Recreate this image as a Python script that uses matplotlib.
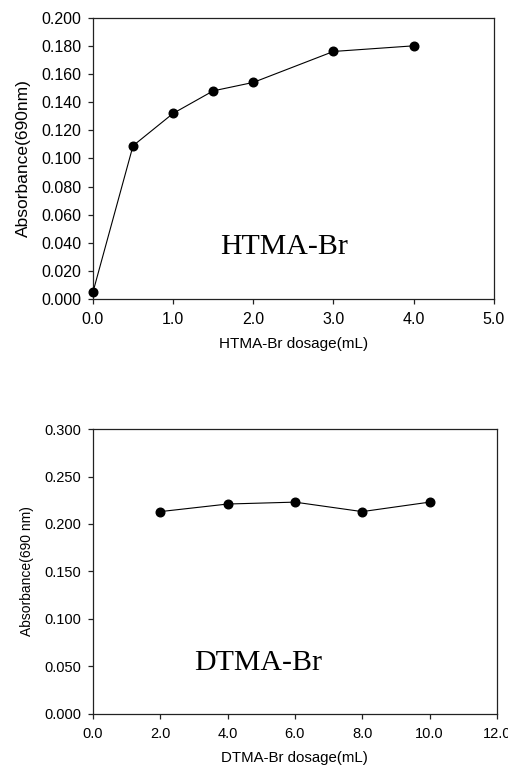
import matplotlib
matplotlib.use("Agg")
import matplotlib.pyplot as plt

# Data
htma_x = [0.0, 0.5, 1.0, 1.5, 2.0, 3.0, 4.0]
htma_y = [0.005, 0.109, 0.132, 0.148, 0.154, 0.176, 0.180]
dtma_x = [2.0, 4.0, 6.0, 8.0, 10.0]
dtma_y = [0.213, 0.221, 0.223, 0.213, 0.223]

top_xticks = [0, 1, 2, 3, 4, 5]
top_xticklabels = ["0.0", "1.0", "2.0", "3.0", "4.0", "5.0"]
top_yticks = [0.0, 0.02, 0.04, 0.06, 0.08, 0.10, 0.12, 0.14, 0.16, 0.18, 0.20]
bot_xticks = [0, 2, 4, 6, 8, 10, 12]
bot_xticklabels = ["0.0", "2.0", "4.0", "6.0", "8.0", "10.0", "12.0"]
bot_yticks = [0.0, 0.05, 0.10, 0.15, 0.20, 0.25, 0.30]

plt.rcParams['font.family'] = ['Liberation Sans', 'DejaVu Sans']

fig = plt.figure(figsize=(5.08, 7.69), dpi=100)
ax1 = fig.add_axes([0.183, 0.611, 0.789, 0.366])
ax2 = fig.add_axes([0.183, 0.072, 0.795, 0.370])

def style(ax, xpad, ypad):
    for s in ax.spines.values():
        s.set_linewidth(0.9)
        s.set_color('#222222')
    ax.tick_params(direction='out', length=3.6, width=0.9, top=False, right=False, color='#222222')
    ax.tick_params(axis='x', pad=xpad)
    ax.tick_params(axis='y', pad=ypad)

serif = ['Liberation Serif', 'DejaVu Serif']

# Top chart
ax1.plot(htma_x, htma_y, color='black', lw=0.8, marker='o', ms=6.2, mfc='black', mec='black', clip_on=False, zorder=3)
ax1.set_xlim(0, 5)
ax1.set_ylim(0, 0.2)
ax1.set_xticks(top_xticks)
ax1.set_xticklabels(top_xticklabels, fontsize=11.5)
ax1.set_yticks(top_yticks)
ax1.set_yticklabels([f"{v:.3f}" for v in top_yticks], fontsize=11.5)
ax1.set_xlabel("HTMA-Br dosage(mL)", fontsize=11, labelpad=7)
ax1.set_ylabel("Absorbance(690nm)", fontsize=12.5, labelpad=7)
ax1.text(2.38, 0.037, "HTMA-Br", family=serif, fontsize=21.5, ha='center', va='center')
style(ax1, 6, 5)

# Bottom chart
ax2.plot(dtma_x, dtma_y, color='black', lw=0.8, marker='o', ms=6.2, mfc='black', mec='black', clip_on=False, zorder=3)
ax2.set_xlim(0, 12)
ax2.set_ylim(0, 0.3)
ax2.set_xticks(bot_xticks)
ax2.set_xticklabels(bot_xticklabels, fontsize=10.5)
ax2.set_yticks(bot_yticks)
ax2.set_yticklabels([f"{v:.3f}" for v in bot_yticks], fontsize=10.5)
ax2.set_xlabel("DTMA-Br dosage(mL)", fontsize=10.8, labelpad=7)
ax2.set_ylabel("Absorbance(690 nm)", fontsize=10, labelpad=7)
ax2.text(4.9, 0.053, "DTMA-Br", family=serif, fontsize=21.5, ha='center', va='center')
style(ax2, 6, 5)

fig.savefig("out.png", dpi=100)
